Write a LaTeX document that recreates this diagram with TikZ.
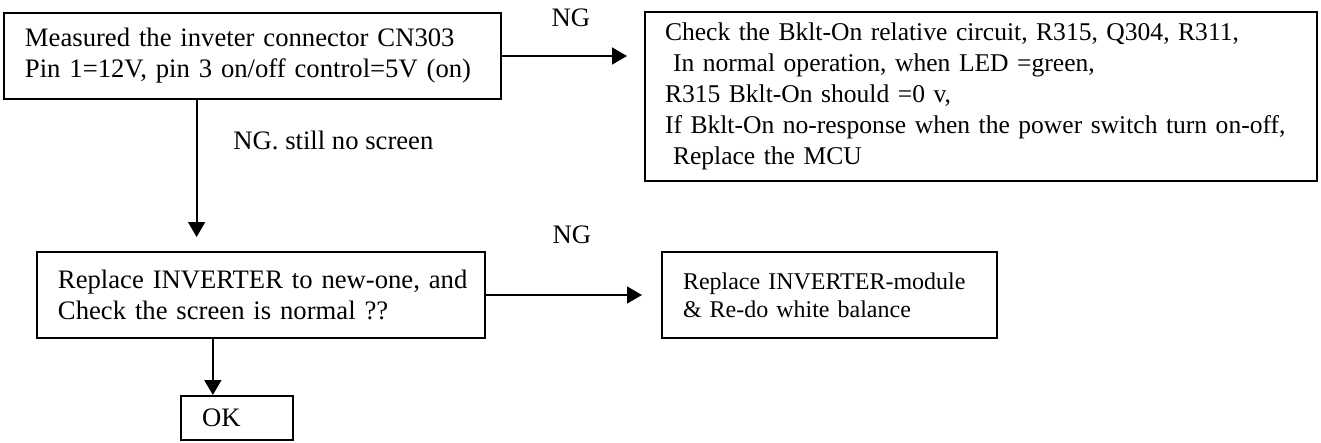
\documentclass[tikz,border=0pt]{standalone}
\usepackage{fontspec}
\setmainfont{Liberation Serif}
\usepackage{xcolor}
\usepackage{tikz}
\usetikzlibrary{arrows.meta,calc}

\begin{document}
\begin{tikzpicture}[x=0.45pt,y=-0.45pt,
  box/.style={draw=black,line width=0.9pt,align=left,font=\fontsize{12pt}{14pt}\selectfont,
              inner xsep=9.45pt,inner ysep=0pt,minimum height=38.7pt},
  lbl/.style={font=\fontsize{12pt}{14pt}\selectfont,inner sep=0pt},
  arr/.style={-{Triangle[length=6.75pt,width=7.6pt]},line width=0.9pt}]
\useasboundingbox (0,0) rectangle (1321,442);
\node[box,text width=204.75pt] (meas) at (252.5,56) {Measured the inveter connector CN303\\Pin 1=12V, pin 3 on/off control=5V (on)};
\node[box,text width=284.4pt,inner xsep=9pt,minimum height=76pt,font=\fontsize{11.5pt}{14pt}\selectfont] (bklt) at (981,96.5)
  {Check the Bklt-On relative circuit, R315, Q304, R311,\\\hspace*{3.6pt}In normal operation, when LED =green,\\R315 Bklt-On should =0 v,\\\mbox{If Bklt-On no-response when the power switch turn on-off,}\\\hspace*{3.6pt}Replace the MCU};
\node[box,text width=182.7pt] (inv) at (261,295) {\mbox{Replace INVERTER to new-one, and}\\Check the screen is normal ??};
\node[box,text width=131.85pt,font=\fontsize{10.8pt}{12.6pt}\selectfont] (mod) at (829.5,295) {Replace INVERTER-module\\\& Re-do white balance};
\node[box,text width=31.5pt,minimum height=19.8pt] (ok) at (237,418) {OK};
\node[lbl] (ng1) at (571,18) {NG};
\node[lbl,anchor=west] (still) at (233,140) {NG. still no screen};
\node[lbl] (ng2) at (572,235) {NG};
\coordinate (measdown) at ($(meas.south west)!0.388!(meas.south east)$);
\coordinate (invdown) at ($(inv.south west)!0.393!(inv.south east)$);
\draw[arr,shorten >=7.65pt] (meas.east) -- (meas.east -| bklt.west);
\draw[arr,shorten >=6.3pt] (measdown) -- (measdown |- inv.north);
\draw[arr,shorten >=8.55pt] (inv.east) -- (mod.west); \draw[arr] (invdown) -- (invdown |- ok.north);
\end{tikzpicture}
\end{document}
